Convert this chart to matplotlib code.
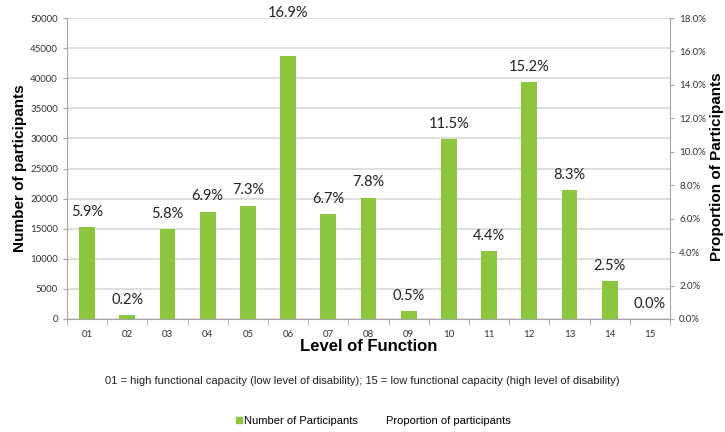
import matplotlib.pyplot as plt
from matplotlib.ticker import FuncFormatter
from matplotlib.lines import Line2D

levels = ['01', '02', '03', '04', '05', '06', '07', '08', '09', '10', '11', '12', '13', '14', '15']
participants = [15300, 600, 14950, 17850, 18850, 43700, 17400, 20150, 1330, 29850, 11300, 39300, 21400, 6300, 0]
proportions = [5.9, 0.2, 5.8, 6.9, 7.3, 16.9, 6.7, 7.8, 0.5, 11.5, 4.4, 15.2, 8.3, 2.5, 0.0]

green = '#8CC63F'
grid_c = '#d9d9d9'
spine_c = '#a6a6a6'

fig = plt.figure(figsize=(7.25, 4.32), dpi=100)
ax = fig.add_axes([0.0924, 0.2616, 0.8318, 0.6967])

x = list(range(len(levels)))
ax.bar(x, participants, width=0.39, color=green, zorder=3)
ax.set_xlim(-0.5, len(levels) - 0.5)
ax.set_ylim(0, 50000)
ax.set_yticks(range(0, 50001, 5000))
ax.yaxis.grid(True, color=grid_c, linewidth=1.2, zorder=0)
ax.tick_params(axis='y', labelsize=7, colors='#333333', length=3, color=spine_c)
ax.tick_params(axis='x', which='major', length=0, labelsize=7, colors='#333333', pad=8)
ax.set_xticks(x)
ax.set_xticklabels(levels, fontfamily='Lato')
ax.set_xticks([i - 0.5 for i in range(len(levels) + 1)], minor=True)
ax.tick_params(axis='x', which='minor', length=4, color=spine_c, direction='out')
for lab in ax.get_yticklabels():
    lab.set_fontfamily('Lato')
for s in ['top', 'right']:
    ax.spines[s].set_visible(False)
for s in ['left', 'bottom']:
    ax.spines[s].set_color(spine_c)

# percentage labels above bars
for i, (v, p) in enumerate(zip(participants, proportions)):
    off = 31 if p > 16 else 11
    ax.annotate(f'{p:.1f}%', (i, v), xytext=(0, off), textcoords='offset points',
                ha='center', va='center', fontsize=10.5, fontfamily='Lato', color='#222222')

ax.set_ylabel('Number of participants', fontsize=11, fontweight='bold',
              fontfamily='Liberation Sans')
ax.yaxis.set_label_coords(-0.066, 0.5)
ax.set_xlabel('Level of Function', fontsize=12, fontweight='bold',
              fontfamily='Liberation Sans', labelpad=0)

ax2 = ax.twinx()
ax2.set_ylim(0, 18)
ax2.set_yticks(range(0, 19, 2))
ax2.yaxis.set_major_formatter(FuncFormatter(lambda v, _: f'{v:.1f}%'))
ax2.tick_params(axis='y', labelsize=7, colors='#333333', length=3, color=spine_c)
for lab in ax2.get_yticklabels():
    lab.set_fontfamily('Lato')
for s in ['top', 'left', 'bottom']:
    ax2.spines[s].set_visible(False)
ax2.spines['right'].set_color(spine_c)
ax2.set_ylabel('Proportion of Participants', fontsize=11, fontweight='bold',
               fontfamily='Liberation Sans')
ax2.yaxis.set_label_coords(1.066, 0.505)

fig.text(0.5, 0.118, '01 = high functional capacity (low level of disability); 15 = low functional capacity (high level of disability)',
         ha='center', va='center', fontsize=8, fontfamily='Liberation Sans', color='#222222')

handles = [Line2D([], [], marker='s', color='none', markerfacecolor=green, markeredgecolor=green, markersize=5),
           Line2D([], [], color='none')]
fig.legend(handles, ['Number of Participants', 'Proportion of participants'],
           loc='center', bbox_to_anchor=(0.515, 0.026), ncol=2, frameon=False,
           prop={'family': 'Liberation Sans', 'size': 8}, handlelength=0.6,
           handletextpad=0.1, columnspacing=1.9)

fig.savefig('out.png', dpi=100)
